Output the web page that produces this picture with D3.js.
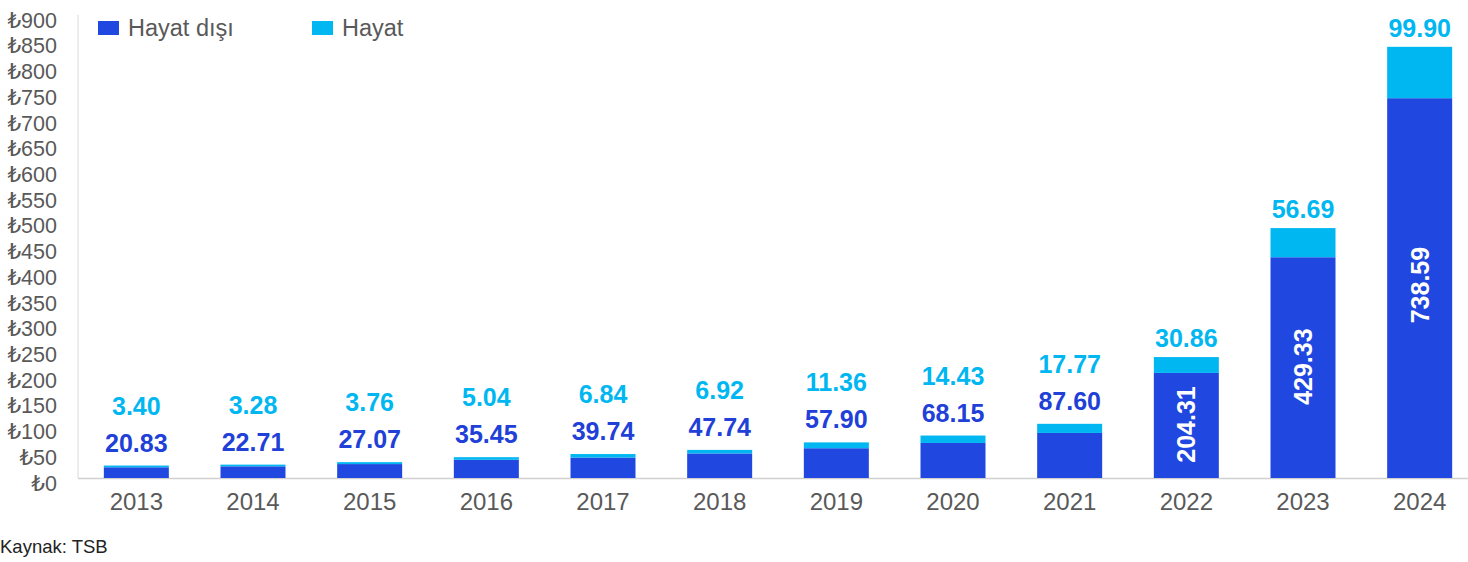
<!DOCTYPE html>
<html>
<head>
<meta charset="utf-8">
<script src="https://cdn.jsdelivr.net/npm/d3@7/dist/d3.min.js"></script>
<style>
  html, body { margin: 0; padding: 0; background: #fff; }
  svg { display: block; }
  text { font-family: "Liberation Sans", Arial, "DejaVu Sans", sans-serif; }
</style>
</head>
<body>
<svg id="chart" width="1468" height="562"></svg>
<script>
const years = ["2013","2014","2015","2016","2017","2018","2019","2020","2021","2022","2023","2024"];
const hayatDisi = [20.83, 22.71, 27.07, 35.45, 39.74, 47.74, 57.90, 68.15, 87.60, 204.31, 429.33, 738.59];
const hayat = [3.40, 3.28, 3.76, 5.04, 6.84, 6.92, 11.36, 14.43, 17.77, 30.86, 56.69, 99.90];
const yTicks = [0,50,100,150,200,250,300,350,400,450,500,550,600,650,700,750,800,850,900];
const seriesNames = ["Hayat dışı", "Hayat"];
const colors = { dark: "#2047E0", light: "#00B7F1", axis: "#595959" };

const svg = d3.select("#chart");
const x = d3.scaleBand().domain(years).range([78, 1478]).paddingInner(0.443).paddingOuter(0.2215);
const y = d3.scaleLinear().domain([0, 900]).range([478, 15.2]);

// axis lines
svg.append("line").attr("x1", 78).attr("x2", 78).attr("y1", 15).attr("y2", 478)
  .attr("stroke", "#d9d9d9").attr("stroke-width", 1);
svg.append("line").attr("x1", 78).attr("x2", 1468).attr("y1", 478.5).attr("y2", 478.5)
  .attr("stroke", "#d0d0d0").attr("stroke-width", 1.5);

// y tick labels
svg.append("g").selectAll("text").data(yTicks).join("text")
  .attr("x", 57).attr("y", d => y(d) + 5.5)
  .attr("text-anchor", "end").attr("dominant-baseline", "central")
  .attr("font-size", 21.5).attr("fill", colors.axis)
  .text(d => "₺" + d);

// x labels
svg.append("g").selectAll("text").data(years).join("text")
  .attr("x", d => x(d) + x.bandwidth()/2).attr("y", 501)
  .attr("text-anchor", "middle").attr("dominant-baseline", "central")
  .attr("font-size", 24).attr("fill", colors.axis)
  .text(d => d);

const data = years.map((yr, i) => ({ yr, a: hayatDisi[i], b: hayat[i] }));

// bars
const g = svg.append("g");
g.selectAll("rect.a").data(data).join("rect").attr("class", "a")
  .attr("x", d => x(d.yr)).attr("width", x.bandwidth())
  .attr("y", d => y(d.a)).attr("height", d => y(0) - y(d.a))
  .attr("fill", colors.dark);
g.selectAll("rect.b").data(data).join("rect").attr("class", "b")
  .attr("x", d => x(d.yr)).attr("width", x.bandwidth())
  .attr("y", d => y(d.a + d.b)).attr("height", d => y(d.a) - y(d.a + d.b))
  .attr("fill", colors.light);

// labels
const big = d => d.a > 150;
const lab = svg.append("g").attr("font-weight", "bold").attr("font-size", 25);
lab.selectAll("text.a").data(data).join("text").attr("class", "a")
  .attr("text-anchor", "middle").attr("dominant-baseline", "central")
  .attr("fill", d => big(d) ? "#fff" : "#2040D8")
  .attr("transform", d => {
    const cx = x(d.yr) + x.bandwidth()/2;
    if (big(d)) {
      const cy = (y(0) + y(d.a)) / 2 - (d.a > 600 ? 3 : 1);
      return `translate(${cx},${cy}) rotate(-90)`;
    }
    return `translate(${cx},${y(d.a + d.b) - 23})`;
  })
  .text(d => d.a.toFixed(2));
lab.selectAll("text.b").data(data).join("text").attr("class", "b")
  .attr("text-anchor", "middle").attr("dominant-baseline", "central")
  .attr("fill", colors.light)
  .attr("x", d => x(d.yr) + x.bandwidth()/2)
  .attr("y", d => big(d) ? y(d.a + d.b) - 19 : y(d.a + d.b) - 60)
  .text(d => d.b.toFixed(2));

// legend
const leg = svg.append("g");
const legX = [98, 312];
seriesNames.forEach((n, i) => {
  leg.append("rect").attr("x", legX[i]).attr("y", 21).attr("width", 21).attr("height", 14)
    .attr("fill", i === 0 ? colors.dark : colors.light);
  leg.append("text").attr("x", legX[i] + 30).attr("y", 28)
    .attr("dominant-baseline", "central").attr("font-size", 23.5).attr("fill", colors.axis)
    .text(n);
});

// source
svg.append("text").attr("x", 0).attr("y", 546).attr("dominant-baseline", "central")
  .attr("font-size", 18.5).attr("fill", "#222").text("Kaynak: TSB");
</script>
</body>
</html>
